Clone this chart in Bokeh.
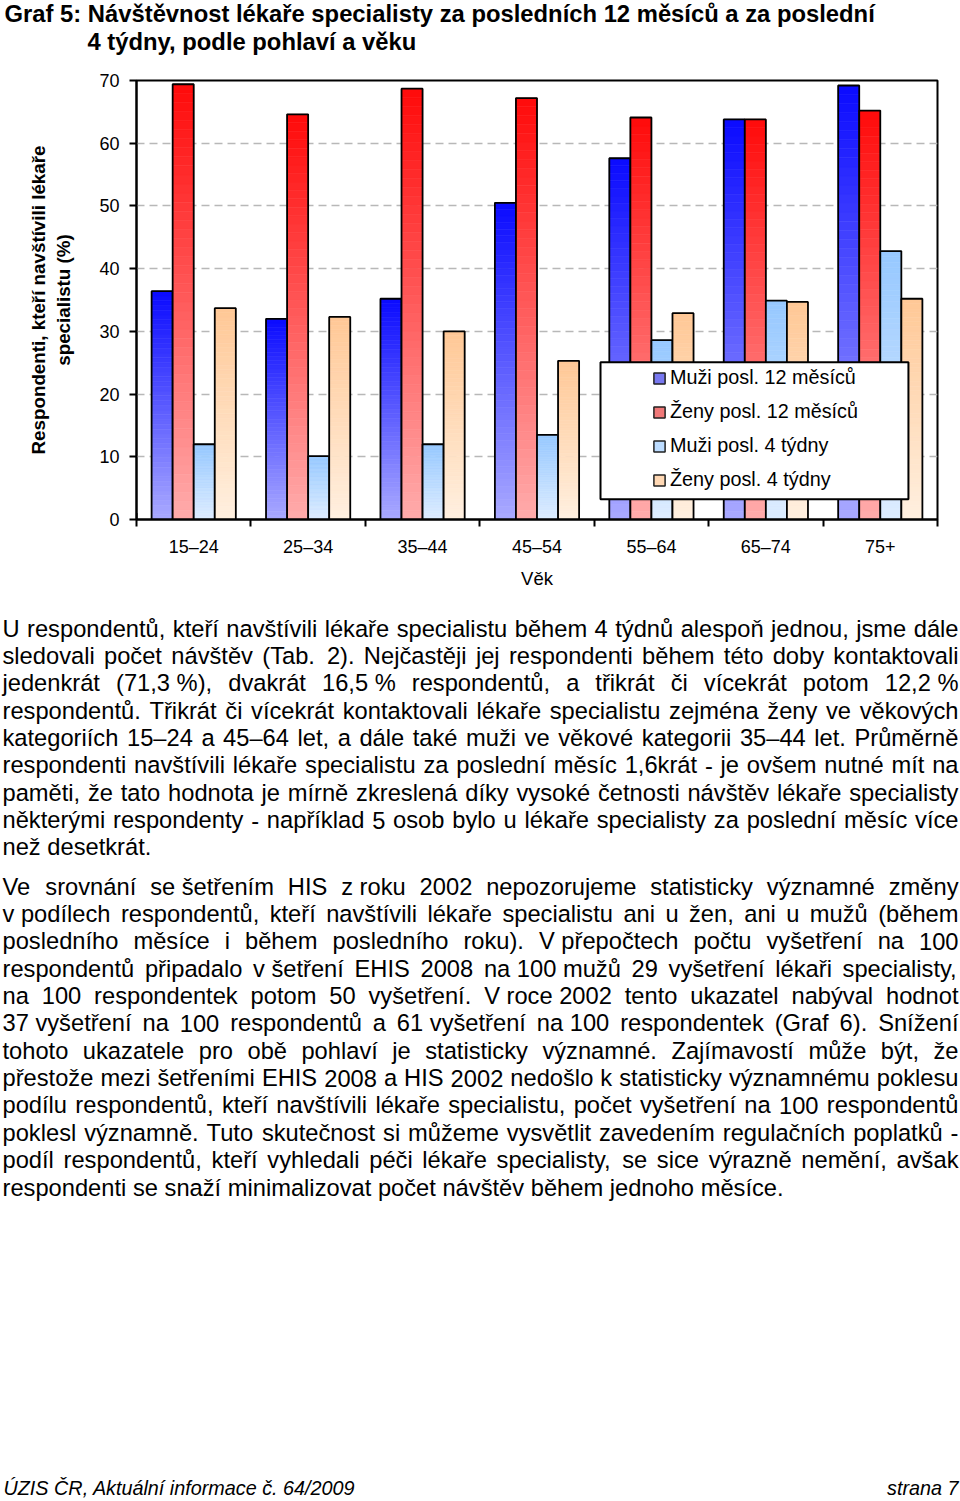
import unicodedata
from bokeh.plotting import figure
from bokeh.layouts import column, row
from bokeh.models import (Range1d, FixedTicker, ColumnDataSource, Legend, LegendItem)
from bokeh.core.properties import value
from bokeh.embed import file_html
from bokeh.resources import INLINE

# ---------------- data ----------------
categories = ["15–24", "25–34", "35–44", "45–54", "55–64", "65–74", "75+"]
muzi_12m = [36.4, 32.0, 35.2, 50.5, 57.6, 63.8, 69.2]
zeny_12m = [69.4, 64.6, 68.7, 67.2, 64.1, 63.8, 65.2]
muzi_4t = [12.0, 10.1, 12.0, 13.5, 28.6, 34.9, 42.8]
zeny_4t = [33.7, 32.3, 30.0, 25.3, 32.9, 34.7, 35.2]
series_names = ["Muži posl. 12 měsíců", "Ženy posl. 12 měsíců", "Muži posl. 4 týdny", "Ženy posl. 4 týdny"]
y_ticks = [0, 10, 20, 30, 40, 50, 60, 70]

title_lines = ["Graf 5: Návštěvnost lékaře specialisty za posledních 12 měsíců a za poslední",
               "4 týdny, podle pohlaví a věku"]
y_title = "Respondenti, kteří navštívili lékaře\nspecialistu (%)"
x_title = "Věk"

NB = "\u00a0"
para1 = [
    "U respondentů, kteří navštívili lékaře specialistu během 4 týdnů alespoň jednou, jsme dále",
    "sledovali počet návštěv (Tab. 2). Nejčastěji jej respondenti během této doby kontaktovali",
    "jedenkrát (71,3" + NB + "%), dvakrát 16,5" + NB + "% respondentů, a třikrát či vícekrát potom 12,2" + NB + "%",
    "respondentů. Třikrát či vícekrát kontaktovali lékaře specialistu zejména ženy ve věkových",
    "kategoriích 15–24 a 45–64 let, a dále také muži ve věkové kategorii 35–44 let. Průměrně",
    "respondenti navštívili lékaře specialistu za poslední měsíc 1,6krát - je ovšem nutné mít na",
    "paměti, že tato hodnota je mírně zkreslená díky vysoké četnosti návštěv lékaře specialisty",
    "některými respondenty - například 5 osob bylo u lékaře specialisty za poslední měsíc více",
    "než desetkrát.",
]
para2 = [
    "Ve srovnání se" + NB + "šetřením HIS z" + NB + "roku 2002 nepozorujeme statisticky významné změny",
    "v" + NB + "podílech respondentů, kteří navštívili lékaře specialistu ani u žen, ani u mužů (během",
    "posledního měsíce i během posledního roku). V" + NB + "přepočtech počtu vyšetření na 100",
    "respondentů připadalo v" + NB + "šetření EHIS 2008 na" + NB + "100" + NB + "mužů 29 vyšetření lékaři specialisty,",
    "na 100 respondentek potom 50 vyšetření. V" + NB + "roce" + NB + "2002 tento ukazatel nabýval hodnot",
    "37" + NB + "vyšetření na 100 respondentů a 61" + NB + "vyšetření na" + NB + "100 respondentek (Graf 6). Snížení",
    "tohoto ukazatele pro obě pohlaví je statisticky významné. Zajímavostí může být, že",
    "přestože mezi šetřeními EHIS 2008 a HIS 2002 nedošlo k statisticky významnému poklesu",
    "podílu respondentů, kteří navštívili lékaře specialistu, počet vyšetření na 100 respondentů",
    "poklesl významně. Tuto skutečnost si můžeme vysvětlit zavedením regulačních poplatků -",
    "podíl respondentů, kteří vyhledali péči lékaře specialisty, se sice výrazně nemění, avšak",
    "respondenti se snaží minimalizovat počet návštěv během jednoho měsíce.",
]
footer_left = "ÚZIS ČR, Aktuální informace č. 64/2009"
footer_right = "strana 7"

# ---------------- styles ----------------
FONT = "Liberation Sans"
bar_colors = [((170, 170, 255), (10, 10, 255)),
              ((255, 172, 172), (255, 10, 10)),
              ((222, 237, 255), (150, 200, 255)),
              ((255, 240, 224), (255, 200, 150))]
swatch_colors = ["#7878f0", "#f07878", "#bcdcff", "#ffd8b4"]
offsets = [-0.276, -0.092, 0.092, 0.276]
bar_w = 0.184
NSLICE = 48
PAGE_W = 960

# ---------------- chart ----------------
p = figure(width=PAGE_W, height=530, x_range=Range1d(0, 7), y_range=Range1d(0, 70),
           output_backend="svg", toolbar_location=None,
           min_border_left=136, min_border_right=23, min_border_top=10, min_border_bottom=81)
p.background_fill_color = "white"
p.outline_line_color = "black"
p.outline_line_width = 2

p.yaxis.ticker = FixedTicker(ticks=y_ticks)
p.yaxis.major_tick_out = 7
p.yaxis.major_tick_in = 0
p.yaxis.minor_tick_out = 0
p.yaxis.axis_line_width = 2
p.yaxis.major_tick_line_width = 2
p.yaxis.major_label_text_font = FONT
p.yaxis.major_label_text_font_size = "18px"
p.yaxis.major_label_text_color = "black"
p.yaxis.major_label_standoff = 10
p.yaxis.axis_label = y_title
p.yaxis.axis_label_text_font = FONT
p.yaxis.axis_label_text_font_style = "bold"
p.yaxis.axis_label_text_font_size = "18.8px"
p.yaxis.axis_label_text_color = "black"
p.yaxis.axis_label_standoff = 22

centers = [i + 0.5 for i in range(len(categories))]
bounds = [float(i) for i in range(len(categories) + 1)]
p.xaxis.ticker = FixedTicker(ticks=centers, minor_ticks=bounds)
p.xaxis.major_label_overrides = {c: lab for c, lab in zip(centers, categories)}
p.xaxis.major_tick_out = 0
p.xaxis.major_tick_in = 0
p.xaxis.minor_tick_out = 7
p.xaxis.minor_tick_in = 0
p.xaxis.minor_tick_line_width = 2
p.xaxis.minor_tick_line_color = "black"
p.xaxis.axis_line_width = 2
p.xaxis.major_label_text_font = FONT
p.xaxis.major_label_text_font_size = "18px"
p.xaxis.major_label_text_color = "black"
p.xaxis.major_label_standoff = 10
p.xaxis.axis_label = x_title
p.xaxis.axis_label_text_font = FONT
p.xaxis.axis_label_text_font_style = "normal"
p.xaxis.axis_label_text_font_size = "18.5px"
p.xaxis.axis_label_text_color = "black"
p.xaxis.axis_label_standoff = 8

p.xgrid.visible = False
p.ygrid.grid_line_color = "#b8b8b8"
p.ygrid.grid_line_dash = "8 5"
p.ygrid.grid_line_width = 1.5


def lerp(c0, c1, t):
    return "#%02x%02x%02x" % tuple(int(round(a + (b - a) * t)) for a, b in zip(c0, c1))


all_series = [muzi_12m, zeny_12m, muzi_4t, zeny_4t]
for vals, off, (cb, ct) in zip(all_series, offsets, bar_colors):
    xs, bots, tops, cols = [], [], [], []
    for c, v in zip(centers, vals):
        for k in range(NSLICE):
            xs.append(c + off)
            bots.append(v * k / NSLICE)
            tops.append(v * (k + 1) / NSLICE)
            cols.append(lerp(cb, ct, (k + 0.5) / NSLICE))
    src = ColumnDataSource(dict(x=xs, bottom=bots, top=tops, color=cols))
    p.vbar(x="x", bottom="bottom", top="top", width=bar_w, source=src,
           fill_color="color", line_color="color", line_width=0.6)
    p.vbar(x=[c + off for c in centers], bottom=0, top=vals, width=bar_w,
           fill_color=None, line_color="black", line_width=1.8)

# legend box (drawn over the bars)
p.quad(left=4.055, right=6.746, bottom=3.24, top=25.08,
       fill_color="white", line_color="black", line_width=2)

legend_items = []
for name, sc in zip(series_names, swatch_colors):
    # legend-only renderer, its single bar lies outside the visible x range
    r = p.vbar(x=[-5.0], top=[1.0], width=bar_w, fill_color=sc, line_color="#222222", line_width=1.5)
    legend_items.append(LegendItem(label=name, renderers=[r]))
legend = Legend(items=legend_items, location=(516, 28), orientation="vertical",
                border_line_color=None, background_fill_alpha=0, padding=0, margin=0,
                glyph_width=14, glyph_height=14, label_standoff=4, spacing=11,
                label_height=20, label_text_font=FONT, label_text_font_size="19.8px",
                label_text_color="black", label_text_baseline="middle")
p.add_layout(legend)

# ---------------- title ----------------
tf = figure(width=PAGE_W, height=70, x_range=Range1d(0, PAGE_W), y_range=Range1d(70, 0),
            output_backend="svg", toolbar_location=None, min_border=0,
            x_axis_location=None, y_axis_location=None)
tf.grid.visible = False
tf.outline_line_color = None
tf.text(x=[4, 87], y=[13, 41], text=title_lines, text_font=value(FONT),
        text_font_style="bold", text_font_size="23.8px", text_baseline="middle",
        text_align="left", text_color="black")

# ---------------- body text ----------------
AW = {' ': 278, NB: 278, '!': 278, '%': 889, '(': 333, ')': 333, ',': 278, '-': 333, '.': 278,
      '/': 278, ':': 278, '–': 556,
      'A': 667, 'B': 667, 'C': 722, 'D': 722, 'E': 667, 'F': 611, 'G': 778, 'H': 722, 'I': 278,
      'J': 500, 'K': 667, 'L': 556, 'M': 833, 'N': 722, 'O': 778, 'P': 667, 'Q': 778, 'R': 722,
      'S': 667, 'T': 611, 'U': 722, 'V': 667, 'W': 944, 'X': 667, 'Y': 667, 'Z': 611,
      'a': 556, 'b': 556, 'c': 500, 'd': 556, 'e': 556, 'f': 278, 'g': 556, 'h': 556, 'i': 222,
      'j': 222, 'k': 500, 'l': 222, 'm': 833, 'n': 556, 'o': 556, 'p': 556, 'q': 556, 'r': 333,
      's': 500, 't': 278, 'u': 556, 'v': 500, 'w': 722, 'x': 500, 'y': 500, 'z': 500,
      'í': 278}


def cw(ch):
    if ch in AW:
        return AW[ch]
    if ch.isdigit():
        return 556
    base = unicodedata.normalize("NFD", ch)[0]
    return AW.get(base, 556)


BODY_SIZE = 23.7
X0, X1 = 2.0, 958.0


def layout_line(line, y, justify, wx, wy, wt):
    words = line.split(" ")
    widths = [sum(cw(c) for c in w) * BODY_SIZE / 1000.0 for w in words]
    if justify and len(words) > 1:
        gap = (X1 - X0 - sum(widths)) / (len(words) - 1)
    else:
        gap = 278 * BODY_SIZE / 1000.0
    x = X0
    for w, wd in zip(words, widths):
        wx.append(x)
        wy.append(y)
        wt.append(w)
        x += wd + gap


BODY_TOP = 600
bf = figure(width=PAGE_W, height=1501 - BODY_TOP, x_range=Range1d(0, PAGE_W),
            y_range=Range1d(1501, BODY_TOP),
            output_backend="svg", toolbar_location=None, min_border=0,
            x_axis_location=None, y_axis_location=None)
bf.grid.visible = False
bf.outline_line_color = None

wx, wy, wt = [], [], []
pitch = 27.37
for i, line in enumerate(para1):
    layout_line(line, 628 + i * pitch, i < len(para1) - 1, wx, wy, wt)
for i, line in enumerate(para2):
    layout_line(line, 886 + i * pitch, i < len(para2) - 1, wx, wy, wt)
bf.text(x="x", y="y", text="t", source=ColumnDataSource(dict(x=wx, y=wy, t=wt)),
        text_font=value(FONT), text_font_size=f"{BODY_SIZE}px", text_baseline="middle",
        text_align="left", text_color="black")

bf.text(x=[3], y=[1487], text=[footer_left], text_font=value(FONT), text_font_style="italic",
        text_font_size="19.8px", text_baseline="middle", text_align="left", text_color="black")
bf.text(x=[958], y=[1487], text=[footer_right], text_font=value(FONT), text_font_style="italic",
        text_font_size="19.8px", text_baseline="middle", text_align="right", text_color="black")

layout = column(row(tf), row(p), row(bf))
open("out.html", "w").write(file_html(layout, INLINE))
